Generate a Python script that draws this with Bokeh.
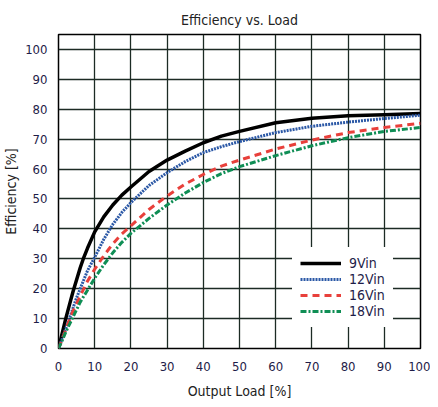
from bokeh.plotting import figure
from bokeh.models import Legend, LegendItem, FixedTicker, Range1d
from bokeh.embed import file_html
from bokeh.resources import INLINE

FONT = "'Liberation Sans Narrow', 'DejaVu Sans Condensed', 'Roboto Condensed', sans-serif"

# output load [%]
load = [0, 1, 2, 3, 4, 5, 6, 7, 8, 10, 12.5, 15, 17.5, 20, 25, 30, 35, 40, 45, 50, 60, 70, 80, 90, 100]

# efficiency [%] per input voltage
eff_9v = [0, 5, 10, 14.5, 19, 23, 27, 30.5, 33.5, 39, 44, 48, 51.3, 54, 59.2, 63, 66, 68.8, 71, 72.6, 75.5, 77, 77.8, 78.2, 78.6]
eff_12v = [0, 3.2, 6.6, 10, 13.5, 17, 20, 23, 26, 30.5, 36.5, 41.5, 45.5, 48.8, 54.5, 58.8, 62.5, 65.5, 67.5, 69.2, 72.2, 74.3, 75.7, 76.9, 78]
eff_16v = [0, 3, 6.3, 9.5, 12.5, 15, 17.5, 20, 22.5, 26.5, 31, 35, 38.3, 41, 46.5, 51, 55, 58.2, 61, 63, 66.7, 69.7, 72.2, 73.9, 75.3]
eff_18v = [0, 2.6, 5.5, 8, 10.5, 13, 15.5, 17.5, 19.5, 23.5, 28, 32, 35.5, 38.5, 43.5, 48, 52, 55.5, 58.5, 60.8, 64.5, 67.8, 70.5, 72.6, 73.9]

labels = ["9Vin", "12Vin", "16Vin", "18Vin"]
ticks = [0, 10, 20, 30, 40, 50, 60, 70, 80, 90, 100]

p = figure(frame_width=362, frame_height=314, output_backend="svg", toolbar_location=None,
           x_range=Range1d(0, 100), y_range=Range1d(0, 105),
           min_border_left=50, min_border_right=10, min_border_top=34, min_border_bottom=51,
           title="Efficiency vs. Load")

p.title.align = "center"
p.title.vertical_align = "top"
p.title.text_font = FONT
p.title.text_font_size = "14px"
p.title.text_font_style = "normal"
p.title.text_color = "#222222"

p.background_fill_color = "white"
p.outline_line_color = "black"
p.outline_line_width = 1.5

p.xgrid.ticker = FixedTicker(ticks=ticks)
p.ygrid.ticker = FixedTicker(ticks=ticks)
p.grid.grid_line_color = "#1c2b24"
p.grid.grid_line_width = 1.3
p.grid.grid_line_alpha = 1

for ax in (p.xaxis, p.yaxis):
    ax.ticker = FixedTicker(ticks=ticks)
    ax.axis_line_color = None
    ax.major_tick_line_color = None
    ax.minor_tick_line_color = None
    ax.major_label_text_font = FONT
    ax.major_label_text_font_size = "13px"
    ax.major_label_text_color = "#1e1c48"
    ax.axis_label_text_font = FONT
    ax.axis_label_text_font_size = "14px"
    ax.axis_label_text_font_style = "normal"
    ax.axis_label_text_color = "#222222"

p.xaxis.axis_label = "Output Load [%]"
p.yaxis.axis_label = "Efficiency [%]"
p.xaxis.major_label_standoff = 7
p.yaxis.major_label_standoff = 5
p.xaxis.axis_label_standoff = 9
p.yaxis.axis_label_standoff = 3

r1 = p.line(load, eff_9v, line_color="black", line_width=3.5)
r2 = p.line(load, eff_12v, line_color="#2b58a6", line_width=3, line_dash="2 1")
r3 = p.line(load, eff_16v, line_color="#e8403b", line_width=3, line_dash="7 5")
r4 = p.line(load, eff_18v, line_color="#0f8e55", line_width=3, line_dash="6 2 2 2")

legend = Legend(items=[LegendItem(label=l, renderers=[r]) for l, r in zip(labels, [r1, r2, r3, r4])],
                location=(234, 21), margin=0, padding=8, spacing=0,
                label_height=16, glyph_height=16, glyph_width=41, label_standoff=8,
                label_text_font=FONT, label_text_font_size="14px", label_text_color="#1e1c48",
                border_line_alpha=0, background_fill_color="white", background_fill_alpha=1)
p.add_layout(legend, "center")

open("out.html", "w").write(file_html(p, INLINE))
